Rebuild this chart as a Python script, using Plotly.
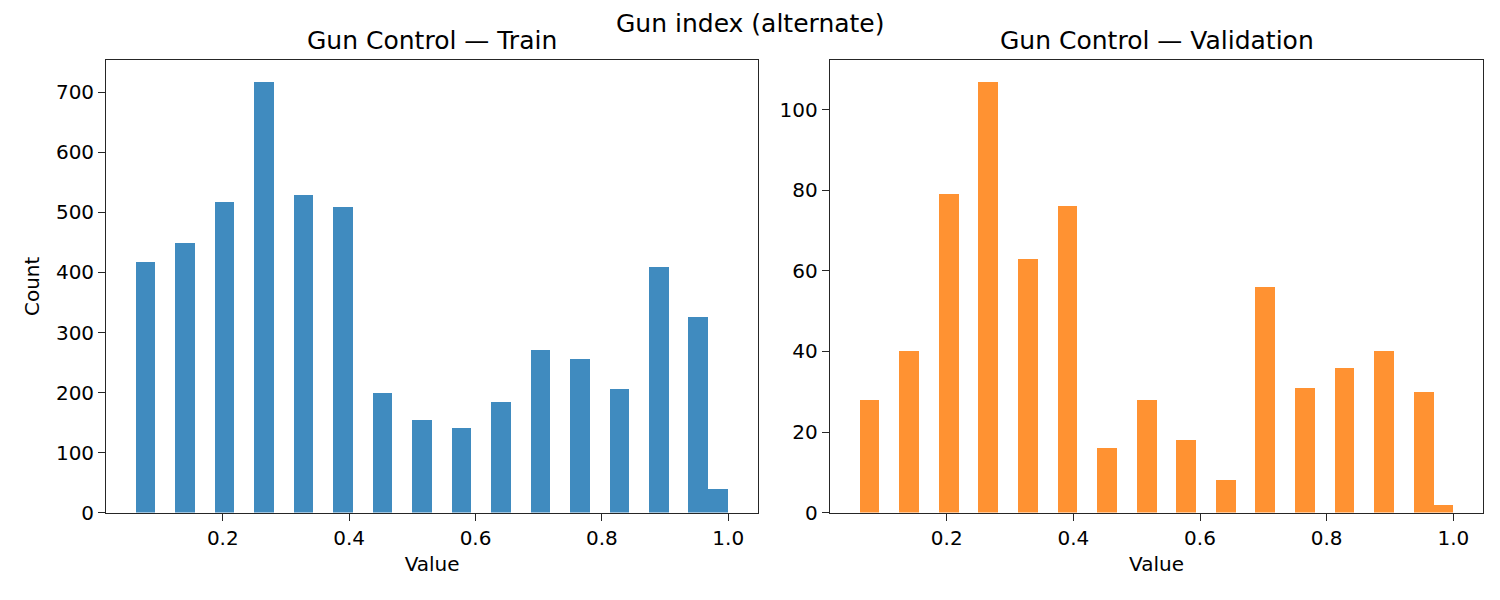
import plotly.graph_objects as go
from plotly.subplots import make_subplots

# distinct values of the index (steps of 1/16) and counts per value
values = [0.0625, 0.125, 0.1875, 0.25, 0.3125, 0.375, 0.4375, 0.5,
          0.5625, 0.625, 0.6875, 0.75, 0.8125, 0.875, 0.9375, 1.0]
train_counts = [418, 449, 518, 718, 529, 509, 199, 154,
                141, 184, 271, 256, 206, 409, 326, 39]
val_counts = [28, 40, 79, 107, 63, 76, 16, 28,
              18, 8, 56, 31, 36, 40, 30, 2]

x_ticks = [0.2, 0.4, 0.6, 0.8, 1.0]
train_ticks = [0, 100, 200, 300, 400, 500, 600, 700]
val_ticks = [0, 20, 40, 60, 80, 100]

# 30 equal bins between min and max, like matplotlib's hist
lo, hi = min(values), max(values)
bw = (hi - lo) / 30
bar_x = [min(v, hi - bw) + bw / 2 for v in values]
pad = (hi - lo) * 0.05

# page body has an 8px margin, so the figure is 16px smaller than the window
W, H, OFF = 1484, 584, 8
def px_x(p):
    return (p - OFF) / W
def px_y(p):
    return 1 - (p - OFF) / H

FONT = "DejaVu Sans"
left_dom = [px_x(106.3), px_x(757.9)]
right_dom = [px_x(830), px_x(1483)]

fig = make_subplots(rows=1, cols=2)

fig.add_trace(go.Bar(x=bar_x, y=train_counts, width=bw,
                     marker=dict(color="rgba(31,119,180,0.85)", line=dict(width=0)),
                     showlegend=False), row=1, col=1)
fig.add_trace(go.Bar(x=bar_x, y=val_counts, width=bw,
                     marker=dict(color="rgba(255,127,14,0.85)", line=dict(width=0)),
                     showlegend=False), row=1, col=2)

axis_style = dict(showline=True, mirror=True, linecolor="#262626", linewidth=1.4,
                  ticks="outside", ticklen=7, tickwidth=1.4, tickcolor="#262626",
                  showgrid=False, zeroline=False, automargin=False,
                  tickfont=dict(family=FONT, size=20, color="black"))

fig.update_xaxes(axis_style)
fig.update_yaxes(axis_style)
fig.update_xaxes(range=[lo - pad, hi + pad], tickvals=x_ticks,
                 ticktext=[f"{t:.1f}" for t in x_ticks],
                 title=dict(text="Value", font=dict(family=FONT, size=20, color="black"),
                            standoff=8))
fig.update_xaxes(domain=left_dom, row=1, col=1)
fig.update_xaxes(domain=right_dom, row=1, col=2)
fig.update_yaxes(domain=[px_y(512.6), px_y(60)])
fig.update_yaxes(range=[0, max(train_counts) * 1.05], tickvals=train_ticks,
                 title=dict(text="Count", font=dict(family=FONT, size=20, color="black"),
                            standoff=10), row=1, col=1)
fig.update_yaxes(range=[0, max(val_counts) * 1.05], tickvals=val_ticks, row=1, col=2)

title_font = dict(family=FONT, size=25, color="black")
fig.add_annotation(text="Gun index (alternate)", x=px_x(750), y=px_y(23),
                   xanchor="center", yanchor="middle",
                   xref="paper", yref="paper", showarrow=False, font=title_font)
fig.add_annotation(text="Gun Control — Train", x=sum(left_dom) / 2, y=px_y(40.5),
                   xanchor="center", yanchor="middle",
                   xref="paper", yref="paper", showarrow=False, font=title_font)
fig.add_annotation(text="Gun Control — Validation", x=sum(right_dom) / 2, y=px_y(40.5),
                   xanchor="center", yanchor="middle",
                   xref="paper", yref="paper", showarrow=False, font=title_font)

fig.update_layout(width=W, height=H, margin=dict(l=0, r=0, t=0, b=0),
                  plot_bgcolor="white", paper_bgcolor="white", bargap=0)

fig.write_html("out.html")
